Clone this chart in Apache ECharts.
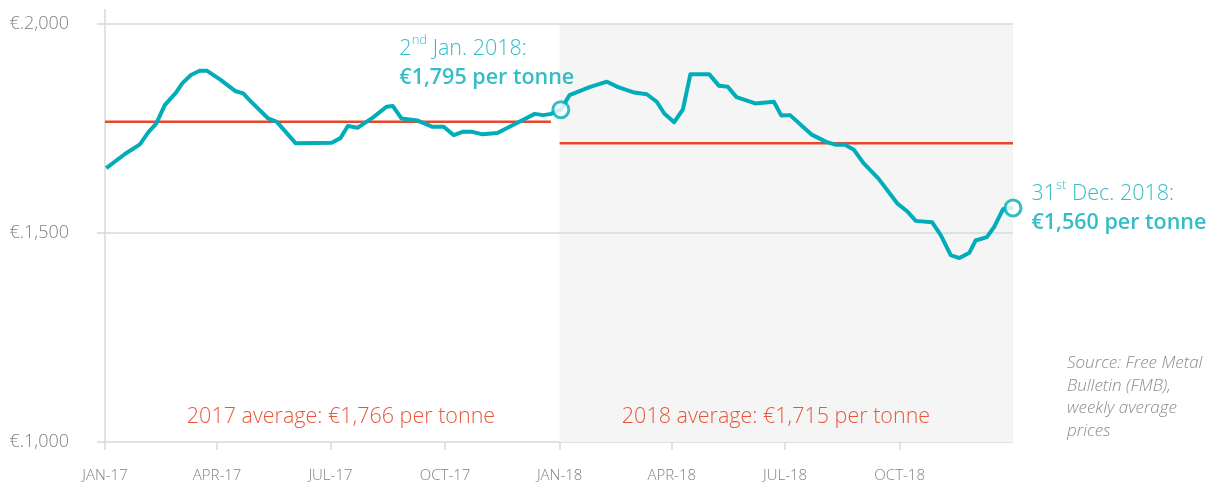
<!DOCTYPE html>
<html>
<head>
<meta charset="utf-8">
<script src="https://cdn.jsdelivr.net/npm/echarts@6/dist/echarts.min.js"></script>
<style>
html,body{margin:0;padding:0;background:#fff;}
#chart{width:1219px;height:488px;}
</style>
</head>
<body>
<div id="chart"></div>
<script>
// ---- data ----
const dates2017 = ['2017-01-02','2017-01-17','2017-01-29','2017-02-05','2017-02-11','2017-02-18','2017-02-27','2017-03-04','2017-03-11','2017-03-18','2017-03-24','2017-04-03','2017-04-16','2017-04-22','2017-04-27','2017-05-12','2017-05-19','2017-06-03','2017-07-02','2017-07-09','2017-07-15','2017-07-23','2017-07-29','2017-08-04','2017-08-15','2017-08-20','2017-08-27','2017-09-09','2017-09-21','2017-09-30','2017-10-08','2017-10-15','2017-10-23','2017-10-31','2017-11-12','2017-11-23','2017-12-12','2017-12-19','2017-12-25'];
const prices2017 = [1655,1689,1712,1742,1761,1806,1836,1858,1878,1888,1888,1868,1839,1834,1818,1774,1766,1715,1716,1727,1756,1752,1764,1776,1802,1804,1774,1769,1754,1754,1734,1742,1742,1736,1739,1756,1785,1782,1785];
const dates2018 = ['2018-01-02','2018-01-09','2018-01-25','2018-02-08','2018-02-17','2018-03-02','2018-03-12','2018-03-20','2018-03-26','2018-04-03','2018-04-10','2018-04-16','2018-05-01','2018-05-09','2018-05-16','2018-05-23','2018-06-07','2018-06-22','2018-06-28','2018-07-05','2018-07-22','2018-08-03','2018-08-11','2018-08-18','2018-08-25','2018-09-02','2018-09-14','2018-09-29','2018-10-07','2018-10-14','2018-10-27','2018-11-03','2018-11-11','2018-11-18','2018-11-26','2018-12-01','2018-12-10','2018-12-16','2018-12-23','2018-12-26','2018-12-31'];
const prices2018 = [1795,1830,1849,1862,1849,1836,1832,1814,1786,1765,1796,1880,1880,1852,1850,1825,1810,1814,1781,1782,1736,1718,1711,1711,1700,1667,1630,1571,1552,1529,1526,1495,1447,1440,1453,1482,1490,1515,1557,1559,1560];
const avg2017 = 1766;
const avg2018 = 1715;
const avg2017Span = ['2017-01-01','2017-12-25'];
const avg2018Span = ['2018-01-01','2018-12-31'];
const shade2018 = ['2018-01-01','2018-12-31'];
const axisRange = ['2017-01-01','2018-12-31'];
const tickDates = ['2017-01-01','2017-04-01','2017-07-01','2017-10-01','2018-01-01','2018-04-01','2018-07-01','2018-10-01'];
const tickLabels = ['JAN-17','APR-17','JUL-17','OCT-17','JAN-18','APR-18','JUL-18','OCT-18'];
const yTicks = [1000, 1500, 2000];
const yLabels = ['€.1,000','€.1,500','€.2,000'];

// ---- build ----
const Y_MIN = yTicks[0], Y_MAX = yTicks[yTicks.length - 1];
const ts = d => Date.parse(d + 'T00:00:00Z');
const tickTs = tickDates.map(ts);
const series = dates2017.map((d,i)=>[ts(d), prices2017[i]])
  .concat(dates2018.map((d,i)=>[ts(d), prices2018[i]]));
const first2018 = [ts(dates2018[0]), prices2018[0]];
const last2018 = [ts(dates2018[dates2018.length-1]), prices2018[prices2018.length-1]];

const TEAL = '#00adb9';
const RED = '#e8472b';
const GRID = '#d9d9d9';
const FONT = '"Open Sans", "Segoe UI", sans-serif';

const richAnn = {
  a: {fontFamily: FONT, fontSize: 21.5, fontWeight: 300, color: TEAL, lineHeight: 29},
  sup: {fontFamily: FONT, fontSize: 13, fontWeight: 300, color: TEAL, lineHeight: 29, verticalAlign: 'top'},
  b: {fontFamily: FONT, fontSize: 21.5, fontWeight: 600, color: TEAL, lineHeight: 29}
};

const chart = echarts.init(document.getElementById('chart'), null, {renderer:'canvas'});
const option = {
  animation: false,
  backgroundColor: '#fff',
  textStyle: {fontFamily: FONT},
  grid: {left: 105, right: 206, top: 24, bottom: 46},
  title: [
    {text: 'Source: Free Metal\nBulletin (FMB),\nweekly average\nprices', left: 1062, top: 347,
     textStyle: {fontFamily: FONT, fontSize: 17, fontStyle: 'italic', fontWeight: 300, color: '#8c8c8c', lineHeight: 22.6}},
    {text: '2017 average: €' + avg2017.toLocaleString('en-US') + ' per tonne', left: 336, top: 401, textAlign: 'center',
     textStyle: {fontFamily: FONT, fontSize: 21.5, fontWeight: 300, color: '#e9573a'}},
    {text: '2018 average: €' + avg2018.toLocaleString('en-US') + ' per tonne', left: 771, top: 401, textAlign: 'center',
     textStyle: {fontFamily: FONT, fontSize: 21.5, fontWeight: 300, color: '#e9573a'}}
  ],
  xAxis: {
    type: 'value', min: ts(axisRange[0]), max: ts(axisRange[1]),
    axisLine: {show: true, lineStyle: {color: GRID, width: 1.5}},
    axisTick: {show: true, customValues: tickTs, length: 8, lineStyle: {color: GRID, width: 1.5}},
    axisLabel: {customValues: tickTs, margin: 26, color: '#7f7f7f', fontSize: 15, fontWeight: 300, fontFamily: FONT,
      formatter: v => tickLabels[tickTs.indexOf(v)] || ''},
    splitLine: {show: false}
  },
  yAxis: {
    type: 'value', min: Y_MIN, max: Y_MAX, interval: 500,
    axisLine: {show: true, lineStyle: {color: GRID, width: 1.5}},
    axisTick: {show: true, length: 8, lineStyle: {color: GRID, width: 1.5}},
    axisLabel: {margin: 36, color: '#808080', fontSize: 18, fontWeight: 300, fontFamily: FONT,
      formatter: v => yLabels[yTicks.indexOf(v)] || ''},
    splitLine: {show: false}
  },
  series: [
    {
      type: 'line', name: 'shade', z: 1, silent: true, symbol: 'none',
      data: shade2018.map(d => [ts(d), Y_MAX]),
      lineStyle: {width: 0, opacity: 0},
      areaStyle: {color: '#f5f5f5', opacity: 1, origin: 'start'}
    },
    {
      type: 'line', name: 'grid', z: 4, silent: true, symbol: 'none', data: [],
      markLine: {silent: true, symbol: 'none', label: {show: false},
        lineStyle: {color: GRID, width: 1.5, type: 'solid'},
        data: yTicks.filter(v => v > Y_MIN).map(v => ({yAxis: v}))}
    },
    {
      type: 'line', name: 'price', data: series, symbol: 'none', z: 10,
      lineStyle: {color: TEAL, width: 4, join: 'round'}
    },
    {
      type: 'line', name: 'avg2017', data: avg2017Span.map(d=>[ts(d), avg2017]), symbol: 'none', z: 8,
      lineStyle: {color: RED, width: 2.5}
    },
    {
      type: 'line', name: 'avg2018', data: avg2018Span.map(d=>[ts(d), avg2018]), symbol: 'none', z: 8,
      lineStyle: {color: RED, width: 2.5}
    },
    {
      type: 'scatter', z: 12, symbol: 'circle', symbolSize: 16,
      itemStyle: {color: '#fff', borderColor: TEAL, borderWidth: 3},
      data: [
        {value: first2018, label: {show: true, position: [-152, -66], align: 'left', verticalAlign: 'top',
          formatter: '{a|2}{sup|nd}{a| Jan. 2018:}\n{b|€' + prices2018[0].toLocaleString('en-US') + ' per tonne}',
          rich: richAnn}},
        {value: last2018, label: {show: true, position: 'right', distance: 9, align: 'left', verticalAlign: 'middle',
          formatter: '{a|31}{sup|st}{a| Dec. 2018:}\n{b|€' + prices2018[prices2018.length-1].toLocaleString('en-US') + ' per tonne}',
          rich: richAnn}}
      ]
    }
  ]
};
chart.setOption(option);
// y-axis line extension above the top gridline, placed through the axes' own scales
const pTop = chart.convertToPixel({gridIndex: 0}, [ts(axisRange[0]), Y_MAX]);
chart.setOption({graphic: [
  {type: 'line', silent: true, z: 1,
   shape: {x1: pTop[0], y1: pTop[1] - 15, x2: pTop[0], y2: pTop[1]},
   style: {stroke: GRID, lineWidth: 1.5}}
]});
</script>
</body>
</html>
